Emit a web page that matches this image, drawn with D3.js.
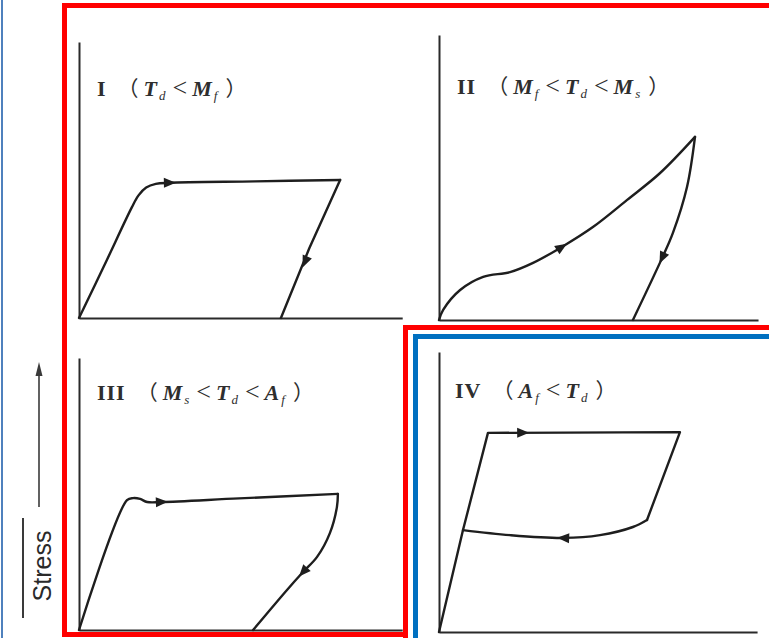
<!DOCTYPE html>
<html>
<head>
<meta charset="utf-8">
<script src="https://cdn.jsdelivr.net/npm/d3@7"></script>
<style>
  body { margin: 0; background: #fff; }
  svg { display: block; }
</style>
</head>
<body>
<div id="chart"></div>
<script>
// stress-strain loops of a shape memory alloy at four test temperatures
// values are in relative units (strain 0-100, stress 0-100)

const panelNames = ["I", "II", "III", "IV"];

// each loop is split into pieces; "c" pieces are smooth, "l" pieces are straight
const loadI   = [[0, 0], [8, 19], [16.5, 39.5], [18.6, 43.8], [21, 46.6], [24, 47.9], [28.4, 48.3], [55, 48.8], [81.6, 49.3]];
const unloadI = [[81.6, 49.3], [72, 25], [63.1, 0]];

const loadII   = [[0, 0], [1.3, 3.6], [6.6, 10.7], [13.8, 15.4], [22.2, 17.1], [29.4, 20.4], [38.4, 26.1], [48.1, 33.2], [58.8, 42.9], [69.1, 52.5], [80, 65.4]];
const unloadII = [[80, 65.4], [77.5, 47.5], [73.1, 31.1], [69.7, 22.1], [60.6, 0]];

const loadIII   = [[0, 0], [15, 46.4], [16.9, 47.1], [19.1, 46.8], [21.3, 45.7], [25.9, 45.7], [50, 47], [80.9, 48.6]];
const unloadIII = [[80.9, 48.6], [80.6, 43.9], [78.4, 34.6], [74.4, 26.1], [70, 20.7], [65, 14.3], [54.4, 0]];

const loadIV   = [[0, 0], [7.5, 36.4], [15.3, 71.1], [75.3, 71.4], [65, 40]];
const unloadIV = [[65, 40], [60.6, 37.5], [50.3, 34.6], [38.8, 33.6], [22.2, 34.6], [7.5, 36.4]];

// arrow heads: [x, y, towardX, towardY]
const arrowsI   = [[28.4, 48.3, 40, 48.5], [70.6, 20, 63.1, 0]];
const arrowsII  = [[38.4, 26.1, 48.1, 33.2], [69.7, 22.1, 60.6, 0]];
const arrowsIII = [[25.9, 45.7, 40, 46.3], [70, 20.7, 65, 14.3]];
const arrowsIV  = [[26.3, 71.15, 40, 71.2], [38.8, 33.6, 30, 34]];

// label pieces per panel
const labelI   = [["I", "r"], ["（", "p"], ["T", "i"], ["d", "s"], ["<", "o"], ["M", "i"], ["f", "s"], ["）", "q"]];
const labelII  = [["II", "r"], ["（", "p"], ["M", "i"], ["f", "s"], ["<", "o"], ["T", "i"], ["d", "s"], ["<", "o"], ["M", "i"], ["s", "s"], ["）", "q"]];
const labelIII = [["III", "r"], ["（", "p"], ["M", "i"], ["s", "s"], ["<", "o"], ["T", "i"], ["d", "s"], ["<", "o"], ["A", "i"], ["f", "s"], ["）", "q"]];
const labelIV  = [["IV", "r"], ["（", "p"], ["A", "i"], ["f", "s"], ["<", "o"], ["T", "i"], ["d", "s"], ["）", "q"]];

const axisLabel = "Stress";

const width = 769, height = 638;

const svg = d3.select("#chart")
  .append("svg")
  .attr("width", width)
  .attr("height", height)
  .attr("viewBox", [0, 0, width, height]);

// page frames
svg.append("line")
  .attr("x1", 2).attr("x2", 2).attr("y1", 0).attr("y2", height)
  .attr("stroke", "#4f81bd").attr("stroke-width", 2);

svg.append("path")
  .attr("d", "M408,634.5 H64.5 V5.5 H780")
  .attr("fill", "none").attr("stroke", "#ff0000").attr("stroke-width", 5);

svg.append("path")
  .attr("d", "M405.5,650 V327.5 H780")
  .attr("fill", "none").attr("stroke", "#ff0000").attr("stroke-width", 5);

svg.append("path")
  .attr("d", "M415.5,650 V336.5 H780")
  .attr("fill", "none").attr("stroke", "#0070c0").attr("stroke-width", 5);

const panels = [
  {name: panelNames[0], ox: 79,  oy: 318, xMax: 101,  yMax: 98.6,  load: loadI,   unload: unloadI,   curves: ["c", "l"], arrows: arrowsI,   label: labelI,   lx: 97,  ly: 96},
  {name: panelNames[1], ox: 439, oy: 320, xMax: 99.7, yMax: 101.8, load: loadII,  unload: unloadII,  curves: ["c", "c"], arrows: arrowsII,  label: labelII,  lx: 457, ly: 94},
  {name: panelNames[2], ox: 79,  oy: 630, xMax: 101,  yMax: 97.1,  load: loadIII, unload: unloadIII, curves: ["c", "c"], arrows: arrowsIII, label: labelIII, lx: 97,  ly: 400},
  {name: panelNames[3], ox: 439, oy: 632, xMax: 99.4, yMax: 100,   load: loadIV,  unload: unloadIV,  curves: ["l", "c"], arrows: arrowsIV,  label: labelIV,  lx: 455, ly: 398}
];

const ink = "#1e1e1e";

panels.forEach(p => {
  const x = d3.scaleLinear().domain([0, p.xMax]).range([p.ox, p.ox + p.xMax * 3.2]);
  const y = d3.scaleLinear().domain([0, p.yMax]).range([p.oy, p.oy - p.yMax * 2.8]);

  const g = svg.append("g");

  g.append("g")
    .attr("transform", `translate(0,${p.oy})`)
    .call(d3.axisBottom(x).ticks(0).tickSizeOuter(0))
    .call(a => a.select(".domain").attr("stroke", "#2a2a2a").attr("stroke-width", 2));

  g.append("g")
    .attr("transform", `translate(${p.ox},0)`)
    .call(d3.axisLeft(y).ticks(0).tickSizeOuter(0))
    .call(a => a.select(".domain").attr("stroke", "#2a2a2a").attr("stroke-width", 2));

  const smooth = d3.line()
    .x(d => x(d[0]))
    .y(d => y(d[1]))
    .curve(d3.curveCatmullRom.alpha(0.5));
  const straight = d3.line()
    .x(d => x(d[0]))
    .y(d => y(d[1]));

  [p.load, p.unload].forEach((seg, i) => {
    g.append("path")
      .datum(seg)
      .attr("d", p.curves[i] === "c" ? smooth : straight)
      .attr("fill", "none")
      .attr("stroke", ink)
      .attr("stroke-width", 2.4)
      .attr("stroke-linejoin", "round")
      .attr("stroke-linecap", "round");
  });

  g.selectAll(".arrow")
    .data(p.arrows)
    .enter()
    .append("path")
    .attr("class", "arrow")
    .attr("d", "M6,0 L-6,-5 L-6,5 Z")
    .attr("fill", ink)
    .attr("transform", d => {
      const ang = Math.atan2(y(d[3]) - y(d[1]), x(d[2]) - x(d[0])) * 180 / Math.PI;
      return `translate(${x(d[0])},${y(d[1])}) rotate(${ang})`;
    });

  // panel label
  const t = g.append("text")
    .attr("x", p.lx)
    .attr("y", p.ly)
    .attr("font-family", "'Liberation Serif', 'Times New Roman', serif")
    .attr("font-size", 22)
    .attr("letter-spacing", 1)
    .attr("fill", "#2e2e2e");

  let prevSub = false;
  p.label.forEach(piece => {
    const [txt, kind] = piece;
    const span = t.append("tspan").text(txt);
    let dy = 0;
    if (kind === "s" && !prevSub) dy = 4;
    if (kind !== "s" && prevSub) dy = -4;
    if (dy) span.attr("dy", dy);
    if (kind === "r") span.attr("font-weight", "bold");
    if (kind === "o") span.attr("dx", 6).attr("font-size", 26);
    if (kind === "i") span.attr("font-style", "italic").attr("font-weight", "bold").attr("dx", 4);
    if (kind === "s") span.attr("font-style", "italic").attr("font-size", 13).attr("dx", 1);
    if (kind === "p") span.attr("font-family", "'Noto Sans CJK SC', sans-serif").attr("font-size", 21).attr("dx", 11);
    if (kind === "q") span.attr("font-family", "'Noto Sans CJK SC', sans-serif").attr("font-size", 21).attr("dx", 7);
    prevSub = kind === "s";
  });
});

// y axis caption with arrow
svg.append("text")
  .attr("transform", "translate(51,566) rotate(-90)")
  .attr("text-anchor", "middle")
  .attr("font-family", "'Liberation Sans', Arial, sans-serif")
  .attr("font-size", 25)
  .attr("fill", "#2a2a2a")
  .text(axisLabel);

svg.append("line")
  .attr("x1", 39).attr("x2", 39).attr("y1", 507).attr("y2", 372)
  .attr("stroke", "#3a3a3a").attr("stroke-width", 1.6);

svg.append("path")
  .attr("d", "M39,362 L35.5,376 L42.5,376 Z")
  .attr("fill", "#3a3a3a");

svg.append("line")
  .attr("x1", 23).attr("x2", 23).attr("y1", 518).attr("y2", 618)
  .attr("stroke", "#3a3a3a").attr("stroke-width", 2);
</script>
</body>
</html>
